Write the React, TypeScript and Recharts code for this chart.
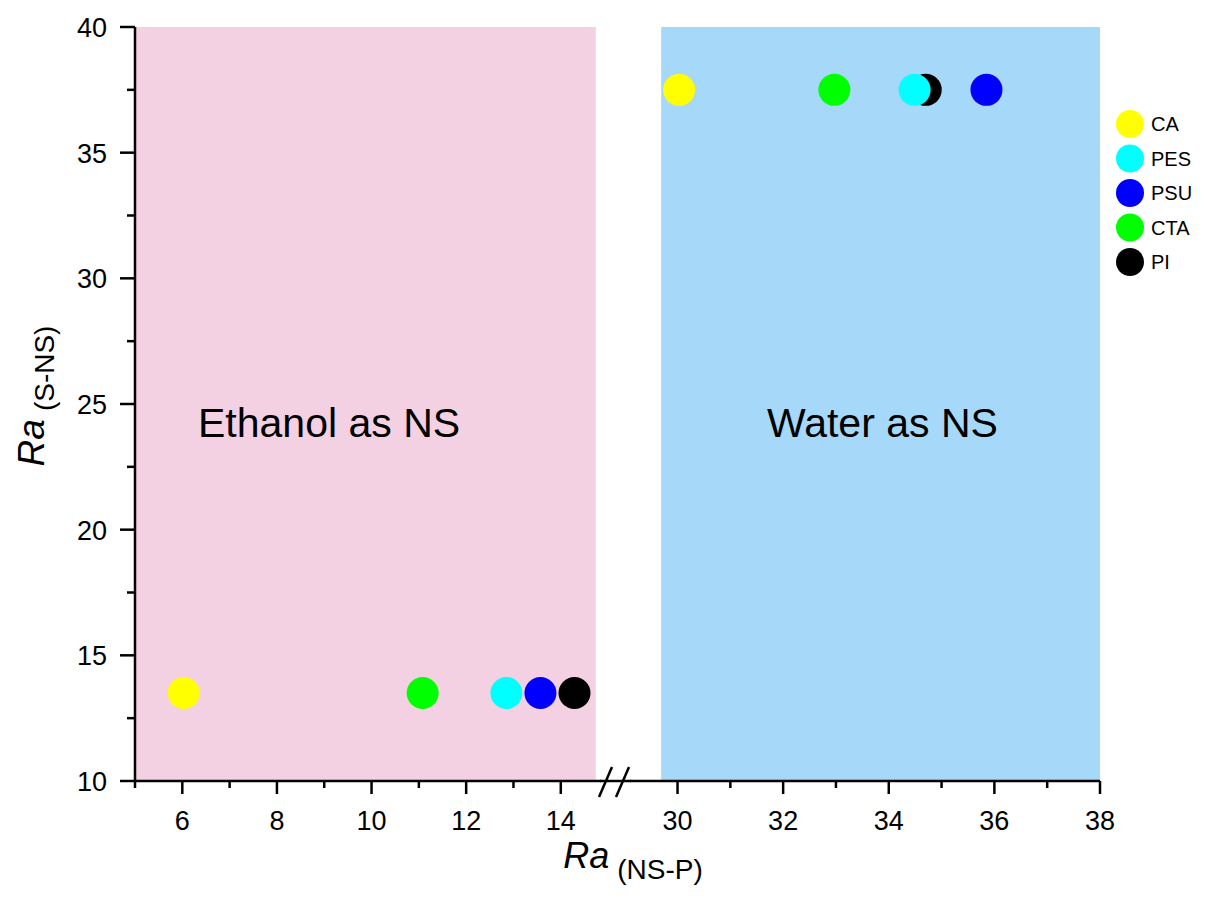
import React from 'react';
import { ScatterChart, Scatter, XAxis, YAxis, ReferenceArea } from 'recharts';

// membranes, in legend order
const membranes = ['CA', 'PES', 'PSU', 'CTA', 'PI'];
const membraneColors = ['#ffff00', '#00ffff', '#0000ff', '#00ff00', '#000000'];
// PI goes first so PES sits on top of it in the water group
const drawOrder = ['PI', 'CA', 'PES', 'PSU', 'CTA'];

// Ra (NS-P), one per membrane
const ethanolRaNSP = [6.03, 12.85, 13.57, 11.08, 14.29];
const waterRaNSP = [30.03, 34.49, 35.85, 32.97, 34.7];
// Ra (S-NS) of each non-solvent
const ethanolRaSNS = 13.5;
const waterRaSNS = 37.5;

// shaded regions on the broken x axis
const ethanolRegion = [5, 14.74];
const waterRegion = [29.69, 38];

const leftTicks = [5, 6, 7, 8, 9, 10, 11, 12, 13, 14];
const rightTicks = [30, 31, 32, 33, 34, 35, 36, 37, 38];
const yTicks = [10, 12.5, 15, 17.5, 20, 22.5, 25, 27.5, 30, 32.5, 35, 37.5, 40];

const FONT = '"Liberation Sans", Arial, sans-serif';
const PINK = '#f3d1e2';
const BLUE = '#a6d8fa';

const XTick = (props: any) => {
  const { x, y, payload } = props;
  const major = payload.value % 2 === 0;
  return (
    <g>
      <line x1={x} x2={x} y1={y} y2={y + (major ? 13 : 7)} stroke="#000" strokeWidth={2.5} />
      {major && (
        <text x={x} y={y + 49} textAnchor="middle" fontSize={27} fontFamily={FONT} fill="#000">
          {payload.value}
        </text>
      )}
    </g>
  );
};

const YTick = (props: any) => {
  const { x, y, payload } = props;
  const major = payload.value % 5 === 0;
  return (
    <g>
      <line x1={x - (major ? 15 : 8)} x2={x} y1={y} y2={y} stroke="#000" strokeWidth={2.5} />
      {major && (
        <text x={x - 28} y={y + 10} textAnchor="end" fontSize={27} fontFamily={FONT} fill="#000">
          {payload.value}
        </text>
      )}
    </g>
  );
};

const dot = (color: string) => (p: any) => <circle cx={p.cx} cy={p.cy} r={16} fill={color} />;

function series(xs: number[], y: number) {
  return drawOrder.map(name => {
    const i = membranes.indexOf(name);
    return (
      <Scatter
        key={name}
        name={name}
        data={[{ x: xs[i], y }]}
        shape={dot(membraneColors[i])}
        isAnimationActive={false}
      />
    );
  });
}

export default function App() {
  return (
    <div style={{ position: 'absolute', left: 0, top: 0, width: 1206, height: 900, background: '#fff', fontFamily: FONT }}>
      {/* ethanol side */}
      <div style={{ position: 'absolute', left: 0, top: 0 }}>
        <ScatterChart width={611} height={900} margin={{ top: 27, right: 10, bottom: 69, left: 0 }}>
          <ReferenceArea x1={ethanolRegion[0]} x2={ethanolRegion[1]} y1={10} y2={40} fill={PINK} fillOpacity={1} stroke="none" />
          <XAxis
            type="number"
            dataKey="x"
            domain={[5, 14.85]}
            allowDataOverflow
            ticks={leftTicks}
            interval={0}
            tickSize={0}
            tickMargin={0}
            tickLine={false}
            tick={XTick}
            height={50}
            axisLine={{ stroke: '#000', strokeWidth: 2.5 }}
          />
          <YAxis
            type="number"
            dataKey="y"
            domain={[10, 40]}
            ticks={yTicks}
            interval={0}
            tickSize={0}
            tickMargin={0}
            tickLine={false}
            tick={YTick}
            width={135}
            axisLine={{ stroke: '#000', strokeWidth: 2.5 }}
          />
          {series(ethanolRaNSP, ethanolRaSNS)}
        </ScatterChart>
      </div>

      {/* water side */}
      <div style={{ position: 'absolute', left: 620, top: 0 }}>
        <ScatterChart width={586} height={900} margin={{ top: 27, right: 106, bottom: 69, left: 10 }}>
          <ReferenceArea x1={waterRegion[0]} x2={waterRegion[1]} y1={10} y2={40} fill={BLUE} fillOpacity={1} stroke="none" />
          <XAxis
            type="number"
            dataKey="x"
            domain={[29.1, 38]}
            allowDataOverflow
            ticks={rightTicks}
            interval={0}
            tickSize={0}
            tickMargin={0}
            tickLine={false}
            tick={XTick}
            height={50}
            axisLine={{ stroke: '#000', strokeWidth: 2.5 }}
          />
          <YAxis type="number" dataKey="y" domain={[10, 40]} hide />
          {series(waterRaNSP, waterRaSNS)}
        </ScatterChart>
      </div>

      {/* titles, axis break and legend */}
      <svg width={1206} height={900} style={{ position: 'absolute', left: 0, top: 0, pointerEvents: 'none' }}>
        <line x1={600} x2={631} y1={781} y2={781} stroke="#000" strokeWidth={2.5} />
        <line x1={599} y1={797} x2={612} y2={767} stroke="#000" strokeWidth={2.5} />
        <line x1={616} y1={797} x2={629} y2={767} stroke="#000" strokeWidth={2.5} />

        <text x={198} y={437} fontSize={41} fontFamily={FONT} fill="#000">Ethanol as NS</text>
        <text x={767} y={437} fontSize={41} fontFamily={FONT} fill="#000">Water as NS</text>

        <text x={633} y={868} textAnchor="middle" fontFamily={FONT} fill="#000">
          <tspan fontSize={36} fontStyle="italic">Ra</tspan>
          <tspan fontSize={28} dx={8} dy={11}>(NS-P)</tspan>
        </text>
        <text transform="translate(44, 396) rotate(-90)" textAnchor="middle" fontFamily={FONT} fill="#000">
          <tspan fontSize={37} fontStyle="italic">Ra</tspan>
          <tspan fontSize={28} dx={8} dy={10}>(S-NS)</tspan>
        </text>

        {membranes.map((m, i) => (
          <g key={m}>
            <circle cx={1130} cy={124 + i * 34.5} r={14} fill={membraneColors[i]} />
            <text x={1151} y={131 + i * 34.5} fontSize={20} fontFamily={FONT} fill="#000">{m}</text>
          </g>
        ))}
      </svg>
    </div>
  );
}
